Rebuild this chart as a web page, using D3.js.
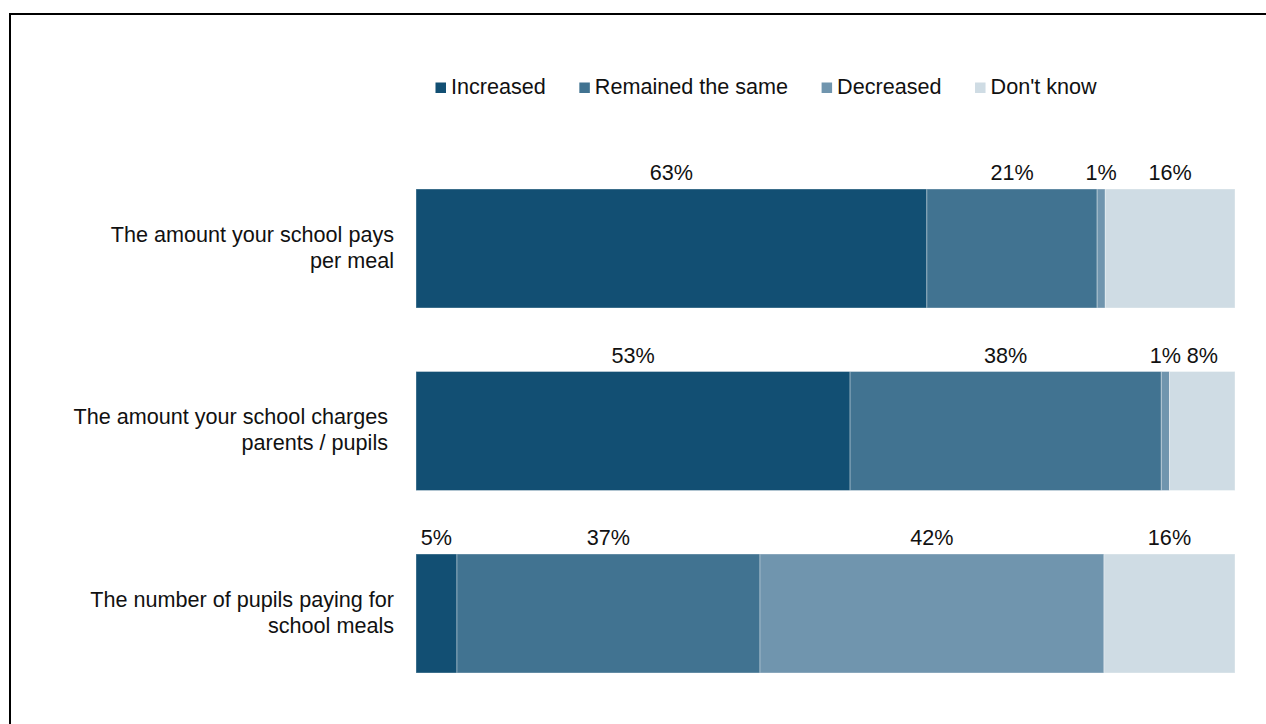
<!DOCTYPE html>
<html>
<head>
<meta charset="utf-8">
<script src="https://cdn.jsdelivr.net/npm/d3@7"></script>
<style>
  html, body { margin: 0; padding: 0; background: #fff; }
  svg { display: block; font-family: "Liberation Sans", Arial, sans-serif; }
</style>
</head>
<body>
<svg id="chart" width="1266" height="724"></svg>
<script>
// Survey items (each row is split into four answer groups)
const categories = [
  ["The amount your school pays", "per meal"],
  ["The amount your school charges\u00a0", "parents / pupils\u00a0"],
  ["The number of pupils paying for", "school meals"]
];
const seriesNames = ["Increased", "Remained the same", "Decreased", "Don't know"];
const increased  = [63, 53, 5];
const remained   = [21, 38, 37];
const decreased  = [1, 1, 42];
const dontKnow   = [16, 8, 16];
const seriesColors = ["#124f73", "#417391", "#7095ae", "#cfdce4"];

const svg = d3.select("#chart");
const W = 1266, H = 724;

// Frame around the chart area
svg.append("rect")
  .attr("x", 10).attr("y", 14)
  .attr("width", W + 20).attr("height", H + 20)
  .attr("fill", "none").attr("stroke", "#000").attr("stroke-width", 2);

const rows = categories.map((c, i) => ({
  key: i,
  "Increased": increased[i],
  "Remained the same": remained[i],
  "Decreased": decreased[i],
  "Don't know": dontKnow[i]
}));

// Each row stacked to the full bar width
const stacked = d3.stack().keys(seriesNames).offset(d3.stackOffsetExpand)(rows);

const x = d3.scaleLinear().domain([0, 1]).range([416, 1235]);
const y = d3.scaleBand().domain(d3.range(categories.length))
  .range([157.25, 704.75]).paddingInner(0.348).paddingOuter(0.174);
const color = d3.scaleOrdinal().domain(seriesNames).range(seriesColors);

const fontSize = 21.6;
const textColor = "#111";

// Bars
const groups = svg.append("g").selectAll("g").data(stacked).join("g")
  .attr("fill", d => color(d.key));

groups.selectAll("rect").data(d => d.map(s => ({ s, key: d.key }))).join("rect")
  .attr("x", d => x(d.s[0]))
  .attr("y", d => y(d.s.data.key))
  .attr("width", d => x(d.s[1]) - x(d.s[0]))
  .attr("height", y.bandwidth())
  .attr("stroke", "rgba(255,255,255,0.35)")
  .attr("stroke-width", 1);

// Value labels above each segment
groups.selectAll("text").data(d => d.map(s => ({ s, key: d.key }))).join("text")
  .attr("x", d => (x(d.s[0]) + x(d.s[1])) / 2)
  .attr("y", d => y(d.s.data.key) - 9)
  .attr("text-anchor", "middle")
  .attr("fill", textColor)
  .attr("font-size", fontSize)
  .text(d => d.s.data[d.key] + "%");

// Category labels (two lines, right aligned)
const catG = svg.append("g");
categories.forEach((lines, i) => {
  const cy = y(i) + y.bandwidth() / 2;
  const t = catG.append("text")
    .attr("text-anchor", "end")
    .attr("fill", textColor)
    .attr("font-size", fontSize);
  lines.forEach((ln, j) => {
    t.append("tspan").attr("x", 394).attr("y", cy - 7 + j * 26).text(ln);
  });
});

// Legend
const legend = svg.append("g");
let lx = 435.5;
seriesNames.forEach((name, i) => {
  legend.append("rect")
    .attr("x", lx).attr("y", 82.5)
    .attr("width", 10.5).attr("height", 10.5)
    .attr("fill", seriesColors[i]);
  const t = legend.append("text")
    .attr("x", lx + 15.5).attr("y", 94)
    .attr("fill", textColor)
    .attr("font-size", fontSize)
    .text(name);
  lx += 15.5 + t.node().getComputedTextLength() + 33.5;
});
</script>
</body>
</html>
